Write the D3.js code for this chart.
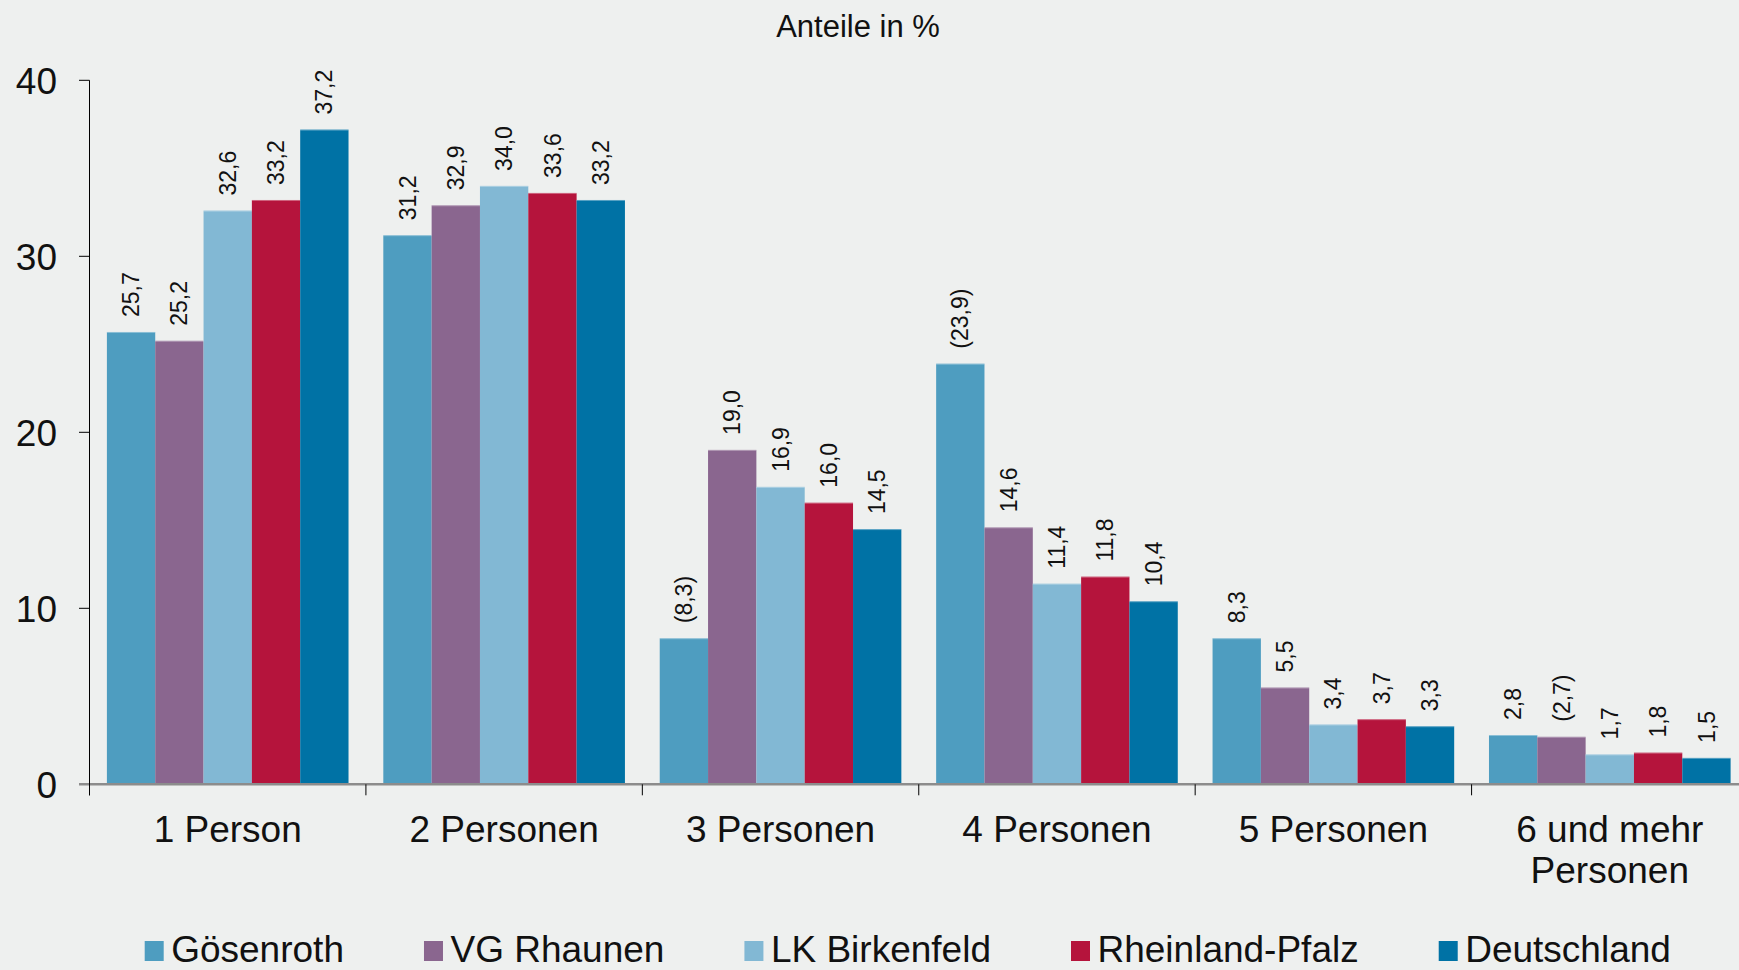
<!DOCTYPE html>
<html><head><meta charset="utf-8">
<script src="https://cdn.jsdelivr.net/npm/d3@7"></script>
<style>
html,body{margin:0;padding:0;background:#eef0ef;}
svg{display:block;font-family:"Liberation Sans",Arial,Helvetica,sans-serif;}
</style>
</head><body>
<svg id="c" width="1739" height="970"></svg>
<script>
// ---- data ----
const categories = [["1 Person"], ["2 Personen"], ["3 Personen"], ["4 Personen"], ["5 Personen"], ["6 und mehr", "Personen"]];
const seriesNames = ["Gösenroth", "VG Rhaunen", "LK Birkenfeld", "Rheinland-Pfalz", "Deutschland"];
const seriesColors = ["#4e9dc0", "#8a668f", "#82b8d4", "#b5143c", "#0072a5"];
const goesenroth   = [25.7, 31.2, 8.3, 23.9, 8.3, 2.8];
const vgRhaunen    = [25.2, 32.9, 19.0, 14.6, 5.5, 2.7];
const lkBirkenfeld = [32.6, 34.0, 16.9, 11.4, 3.4, 1.7];
const rheinlandPfalz = [33.2, 33.6, 16.0, 11.8, 3.7, 1.8];
const deutschland  = [37.2, 33.2, 14.5, 10.4, 3.3, 1.5];
// values shown in parentheses: [category index, series index]
const bracketed = [[2, 0], [3, 0], [5, 1]];
const yTicks = [0, 10, 20, 30, 40];
const title = "Anteile in %";

const seriesValues = [goesenroth, vgRhaunen, lkBirkenfeld, rheinlandPfalz, deutschland];

// ---- layout ----
const svg = d3.select("#c");
const W = 1739, H = 970;
const x0 = d3.scaleBand().domain(d3.range(categories.length)).range([89.5, 1748]).padding(0);
const x1 = d3.scaleBand().domain(d3.range(seriesNames.length)).range([0, x0.bandwidth()]).paddingInner(0).paddingOuter(0.36);
const y = d3.scaleLinear().domain([0, 40]).range([784.3, 80.3]);
const fmt = v => d3.format(".1f")(v).replace(".", ",");

svg.append("rect").attr("width", W).attr("height", H).attr("fill", "#eef0ef");

// title
svg.append("text").attr("x", 858).attr("y", 37).attr("text-anchor", "middle")
  .attr("font-size", 31).attr("fill", "#111").text(title);

// bars
const flat = [];
categories.forEach((c, ci) => seriesValues.forEach((vals, si) => flat.push({ci, si, v: vals[ci]})));
const g = svg.append("g");
g.selectAll("rect.bar").data(flat).join("rect").attr("class", "bar")
  .attr("x", d => x0(d.ci) + x1(d.si))
  .attr("y", d => y(d.v))
  .attr("width", x1.bandwidth())
  .attr("height", d => y(0) - y(d.v))
  .attr("fill", d => seriesColors[d.si]);
// thin light top edge
g.selectAll("line.top").data(flat).join("line").attr("class", "top")
  .attr("x1", d => x0(d.ci) + x1(d.si)).attr("x2", d => x0(d.ci) + x1(d.si) + x1.bandwidth())
  .attr("y1", d => y(d.v) + 0.5).attr("y2", d => y(d.v) + 0.5)
  .attr("stroke", "#ffffff").attr("stroke-opacity", 0.35).attr("stroke-width", 1);

// value labels
g.selectAll("text.val").data(flat).join("text").attr("class", "val")
  .attr("transform", d => `translate(${x0(d.ci) + x1(d.si) + x1.bandwidth() / 2},${y(d.v) - 15}) rotate(-90)`)
  .attr("dy", "0.35em").attr("font-size", 23).attr("fill", "#111")
  .text(d => bracketed.some(b => b[0] === d.ci && b[1] === d.si) ? `(${fmt(d.v)})` : fmt(d.v));

// zero line
svg.append("line").attr("x1", 79).attr("x2", W).attr("y1", y(0)).attr("y2", y(0))
  .attr("stroke", "#8c8c8c").attr("stroke-width", 2.5);

// y axis
svg.append("line").attr("x1", 89.5).attr("x2", 89.5).attr("y1", y(40)).attr("y2", y(0) + 11)
  .attr("stroke", "#000").attr("stroke-width", 1);
svg.selectAll("line.ytick").data(yTicks.filter(t => t !== 0)).join("line").attr("class", "ytick")
  .attr("x1", 79).attr("x2", 89.5).attr("y1", d => y(d)).attr("y2", d => y(d))
  .attr("stroke", "#000").attr("stroke-width", 1);
svg.selectAll("text.ylab").data(yTicks).join("text").attr("class", "ylab")
  .attr("x", 57).attr("y", d => y(d)).attr("dy", "0.36em").attr("text-anchor", "end")
  .attr("font-size", 37).attr("fill", "#111").text(d => d);

// x ticks at band boundaries
svg.selectAll("line.xtick").data(d3.range(categories.length)).join("line").attr("class", "xtick")
  .attr("x1", d => x0(d)).attr("x2", d => x0(d)).attr("y1", y(0)).attr("y2", y(0) + 11)
  .attr("stroke", "#000").attr("stroke-width", 1);

// x labels
const xl = svg.selectAll("text.xlab").data(categories).join("text").attr("class", "xlab")
  .attr("x", (d, i) => x0(i) + x0.bandwidth() / 2).attr("y", 841.7)
  .attr("text-anchor", "middle").attr("font-size", 37).attr("fill", "#111");
xl.selectAll("tspan").data(d => d).join("tspan")
  .attr("x", function() { return this.parentNode.getAttribute("x"); })
  .attr("dy", (d, i) => i === 0 ? 0 : 41.5).text(d => d);

// legend
const lg = svg.append("g");
let lx = 144.7;
seriesNames.forEach((name, i) => {
  lg.append("rect").attr("x", lx).attr("y", 941).attr("width", 19).attr("height", 20).attr("fill", seriesColors[i]);
  const t = lg.append("text").attr("x", lx + 26.5).attr("y", 961.5).attr("font-size", 37).attr("fill", "#111").text(name);
  lx += 26.5 + t.node().getComputedTextLength() + 80;
});
</script>
</body></html>
